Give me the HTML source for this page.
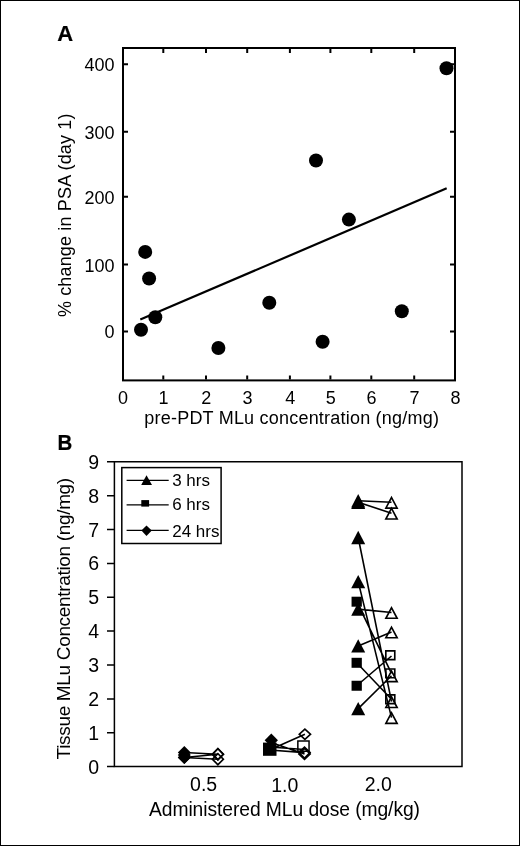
<!DOCTYPE html>
<html><head><meta charset="utf-8"><style>
html,body{margin:0;padding:0;background:#fff;}
body{width:520px;height:846px;overflow:hidden;}
svg{display:block;will-change:transform;}
</style></head><body>
<svg width="520" height="846" viewBox="0 0 520 846" font-family="'Liberation Sans', sans-serif" fill="#000">
<rect x="0.5" y="0.5" width="519" height="845" fill="#fff" stroke="#000" stroke-width="1"/>
<rect x="123" y="48" width="332" height="332.4" fill="none" stroke="#000" stroke-width="2"/>
<path d="M163.3 49V53M163.3 379.4V375.4M206.0 49V53M206.0 379.4V375.4M247.2 49V53M247.2 379.4V375.4M289.9 49V53M289.9 379.4V375.4M330.4 49V53M330.4 379.4V375.4M371.3 49V53M371.3 379.4V375.4M414.2 49V53M414.2 379.4V375.4M124 331.4H128M454 331.4H450M124 264.5H128M454 264.5H450M124 196.8H128M454 196.8H450M124 131.7H128M454 131.7H450M124 64.3H128M454 64.3H450" stroke="#000" stroke-width="2" fill="none"/>
<text x="123.0" y="403.6" font-size="18" text-anchor="middle">0</text>
<text x="163.6" y="403.6" font-size="18" text-anchor="middle">1</text>
<text x="206.3" y="403.6" font-size="18" text-anchor="middle">2</text>
<text x="247.5" y="403.6" font-size="18" text-anchor="middle">3</text>
<text x="290.2" y="403.6" font-size="18" text-anchor="middle">4</text>
<text x="330.7" y="403.6" font-size="18" text-anchor="middle">5</text>
<text x="371.6" y="403.6" font-size="18" text-anchor="middle">6</text>
<text x="414.5" y="403.6" font-size="18" text-anchor="middle">7</text>
<text x="455.6" y="403.6" font-size="18" text-anchor="middle">8</text>
<text x="114.5" y="338.4" font-size="18" text-anchor="end">0</text>
<text x="114.5" y="271.5" font-size="18" text-anchor="end">100</text>
<text x="114.5" y="203.8" font-size="18" text-anchor="end">200</text>
<text x="114.5" y="138.7" font-size="18" text-anchor="end">300</text>
<text x="114.5" y="71.3" font-size="18" text-anchor="end">400</text>
<text x="144.3" y="423.8" font-size="18" textLength="294.6" lengthAdjust="spacing">pre-PDT MLu concentration (ng/mg)</text>
<text transform="translate(70.5 317.1) rotate(-90)" font-size="18" textLength="203.6" lengthAdjust="spacing">% change in PSA (day 1)</text>
<text x="57.3" y="40.8" font-size="22" font-weight="bold" stroke="#000" stroke-width="0.2">A</text>
<path d="M140.3 319.6L446.7 188.3" stroke="#000" stroke-width="2.2" fill="none"/>
<circle cx="145.2" cy="251.9" r="7"/>
<circle cx="149.1" cy="278.5" r="7"/>
<circle cx="155.3" cy="317.2" r="7"/>
<circle cx="141.0" cy="329.7" r="7"/>
<circle cx="218.4" cy="348.0" r="7"/>
<circle cx="316.0" cy="160.5" r="7"/>
<circle cx="348.9" cy="219.6" r="7"/>
<circle cx="269.3" cy="302.7" r="7"/>
<circle cx="322.6" cy="341.8" r="7"/>
<circle cx="401.8" cy="311.3" r="7"/>
<circle cx="446.5" cy="68.3" r="7"/>
<path d="M114.4 461.8H462V766.6H114.4Z" fill="none" stroke="#000" stroke-width="1.5"/>
<path d="M107 766.6H114.4M107 732.7H114.4M107 698.9H114.4M107 665.0H114.4M107 631.1H114.4M107 597.3H114.4M107 563.4H114.4M107 529.5H114.4M107 495.7H114.4M107 461.8H114.4" stroke="#000" stroke-width="1.5" fill="none"/>
<text x="99" y="773.6" font-size="19.5" text-anchor="end">0</text>
<text x="99" y="739.7" font-size="19.5" text-anchor="end">1</text>
<text x="99" y="705.9" font-size="19.5" text-anchor="end">2</text>
<text x="99" y="672.0" font-size="19.5" text-anchor="end">3</text>
<text x="99" y="638.1" font-size="19.5" text-anchor="end">4</text>
<text x="99" y="604.3" font-size="19.5" text-anchor="end">5</text>
<text x="99" y="570.4" font-size="19.5" text-anchor="end">6</text>
<text x="99" y="536.5" font-size="19.5" text-anchor="end">7</text>
<text x="99" y="502.7" font-size="19.5" text-anchor="end">8</text>
<text x="99" y="468.8" font-size="19.5" text-anchor="end">9</text>
<text x="203.6" y="790.6" font-size="19.5" text-anchor="middle">0.5</text>
<text x="284.7" y="792.0" font-size="19.5" text-anchor="middle">1.0</text>
<text x="378.3" y="790.6" font-size="19.5" text-anchor="middle">2.0</text>
<text x="149.0" y="816.1" font-size="19.3" textLength="271.0" lengthAdjust="spacing">Administered MLu dose (mg/kg)</text>
<text transform="translate(70.2 759.4) rotate(-90)" font-size="19" textLength="281.6" lengthAdjust="spacing">Tissue MLu Concentration (ng/mg)</text>
<text x="57.6" y="450.0" font-size="22" font-weight="bold" stroke="#000" stroke-width="0.2" textLength="14.8" lengthAdjust="spacingAndGlyphs">B</text>
<rect x="121.8" y="467.6" width="99.3" height="75.9" fill="none" stroke="#000" stroke-width="1.5"/>
<path d="M126.6 480.3H168.7M126.6 504.8H168.7M126.6 530.4H168.7" stroke="#000" stroke-width="1.2"/>
<path d="M146.5 475.3L152 485.1H141.2Z"/>
<rect x="141.3" y="500.1" width="7.8" height="6.5"/>
<path d="M146.5 525.6L151.8 530.6L146.5 536L141.4 530.6Z"/>
<text x="172.2" y="486.2" font-size="17">3 hrs</text>
<text x="172.2" y="510.2" font-size="17">6 hrs</text>
<text x="172.2" y="536.6" font-size="17">24 hrs</text>
<path d="M358.2 500.8L391.5 502.3M358.2 502.3L391.5 513.2M358.2 537.5L391.5 701.7M358.2 581.65L391.5 717.6M358.2 609.1L391.5 612.5M358.2 645.9L391.5 632.0M358.2 708.6L391.5 675.8M356.7 601.7L391.5 673.4M356.7 662.8L391.5 699.2M356.7 685.75L391.5 656.0M184.3 752.5L217.9 754.2M184.3 757.5L217.9 754.2M184.3 757.5L217.9 759.2M269.5 750L304.9 734.2M269.5 742L304.5 753.9M269.5 747L304.5 749.5M269.5 750L304.5 752.6" stroke="#000" stroke-width="1.6" fill="none"/>
<path fill-rule="evenodd" d="M391.50 495.70L398.50 508.90L384.50 508.90ZM387.24 507.25L395.76 507.25L391.50 499.22Z"/>
<path fill-rule="evenodd" d="M391.50 506.60L398.50 519.80L384.50 519.80ZM387.24 518.15L395.76 518.15L391.50 510.12Z"/>
<path fill-rule="evenodd" d="M391.50 695.10L398.50 708.30L384.50 708.30ZM387.24 706.65L395.76 706.65L391.50 698.62Z"/>
<path fill-rule="evenodd" d="M391.50 711.00L398.50 724.20L384.50 724.20ZM387.24 722.55L395.76 722.55L391.50 714.52Z"/>
<path fill-rule="evenodd" d="M391.50 605.90L398.50 619.10L384.50 619.10ZM387.24 617.45L395.76 617.45L391.50 609.42Z"/>
<path fill-rule="evenodd" d="M391.50 625.40L398.50 638.60L384.50 638.60ZM387.24 636.95L395.76 636.95L391.50 628.92Z"/>
<path fill-rule="evenodd" d="M391.50 669.20L398.50 682.40L384.50 682.40ZM387.24 680.75L395.76 680.75L391.50 672.72Z"/>
<path fill-rule="evenodd" d="M385.00 668.20L395.60 668.20L395.60 678.60L385.00 678.60ZM386.65 676.95L393.95 676.95L393.95 669.85L386.65 669.85Z"/>
<path fill-rule="evenodd" d="M385.00 694.00L395.60 694.00L395.60 704.40L385.00 704.40ZM386.65 702.75L393.95 702.75L393.95 695.65L386.65 695.65Z"/>
<path fill-rule="evenodd" d="M385.00 650.00L395.60 650.00L395.60 660.40L385.00 660.40ZM386.65 658.75L393.95 658.75L393.95 651.65L386.65 651.65Z"/>
<path fill-rule="evenodd" d="M217.90 747.50L224.55 754.20L217.90 760.90L211.25 754.20ZM213.57 754.20L217.90 758.56L222.23 754.20L217.90 749.84Z"/>
<path fill-rule="evenodd" d="M217.90 747.50L224.55 754.20L217.90 760.90L211.25 754.20ZM213.57 754.20L217.90 758.56L222.23 754.20L217.90 749.84Z"/>
<path fill-rule="evenodd" d="M217.90 752.50L224.55 759.20L217.90 765.90L211.25 759.20ZM213.57 759.20L217.90 763.56L222.23 759.20L217.90 754.84Z"/>
<path fill-rule="evenodd" d="M304.90 727.90L311.75 734.20L304.90 740.50L298.05 734.20ZM300.49 734.20L304.90 738.26L309.31 734.20L304.90 730.14Z"/>
<path fill-rule="evenodd" d="M297.1 740.2H309.8V752H297.1ZM298.6 741.7V750.5H308.3V741.7Z"/>
<path fill-rule="evenodd" d="M304.50 746.00L311.30 752.60L304.50 759.20L297.70 752.60ZM300.07 752.60L304.50 756.90L308.93 752.60L304.50 748.30Z"/>
<path fill-rule="evenodd" d="M304.50 747.30L311.30 753.90L304.50 760.50L297.70 753.90ZM300.07 753.90L304.50 758.20L308.93 753.90L304.50 749.60Z"/>
<path d="M358.20 494.10L365.20 507.50L351.20 507.50Z"/>
<path d="M358.20 495.60L365.20 509.00L351.20 509.00Z"/>
<path d="M358.20 530.80L365.20 544.20L351.20 544.20Z"/>
<path d="M358.20 574.95L365.20 588.35L351.20 588.35Z"/>
<path d="M358.20 602.40L365.20 615.80L351.20 615.80Z"/>
<path d="M358.20 639.20L365.20 652.60L351.20 652.60Z"/>
<path d="M358.20 701.90L365.20 715.30L351.20 715.30Z"/>
<path d="M351.55 596.70L361.85 596.70L361.85 606.70L351.55 606.70Z"/>
<path d="M351.55 657.80L361.85 657.80L361.85 667.80L351.55 667.80Z"/>
<path d="M351.55 680.75L361.85 680.75L361.85 690.75L351.55 690.75Z"/>
<path d="M184.30 746.00L190.80 752.50L184.30 759.00L177.80 752.50Z"/>
<path d="M184.30 751.00L190.80 757.50L184.30 764.00L177.80 757.50Z"/>
<path d="M184.30 751.00L190.80 757.50L184.30 764.00L177.80 757.50Z"/>
<path d="M184.30 748.50L190.80 755.00L184.30 761.50L177.80 755.00Z"/>
<rect x="263" y="742.6" width="13.5" height="13.2"/>
<path d="M271.30 733.50L277.95 740.30L271.30 747.10L264.65 740.30Z"/>
</svg>
</body></html>
